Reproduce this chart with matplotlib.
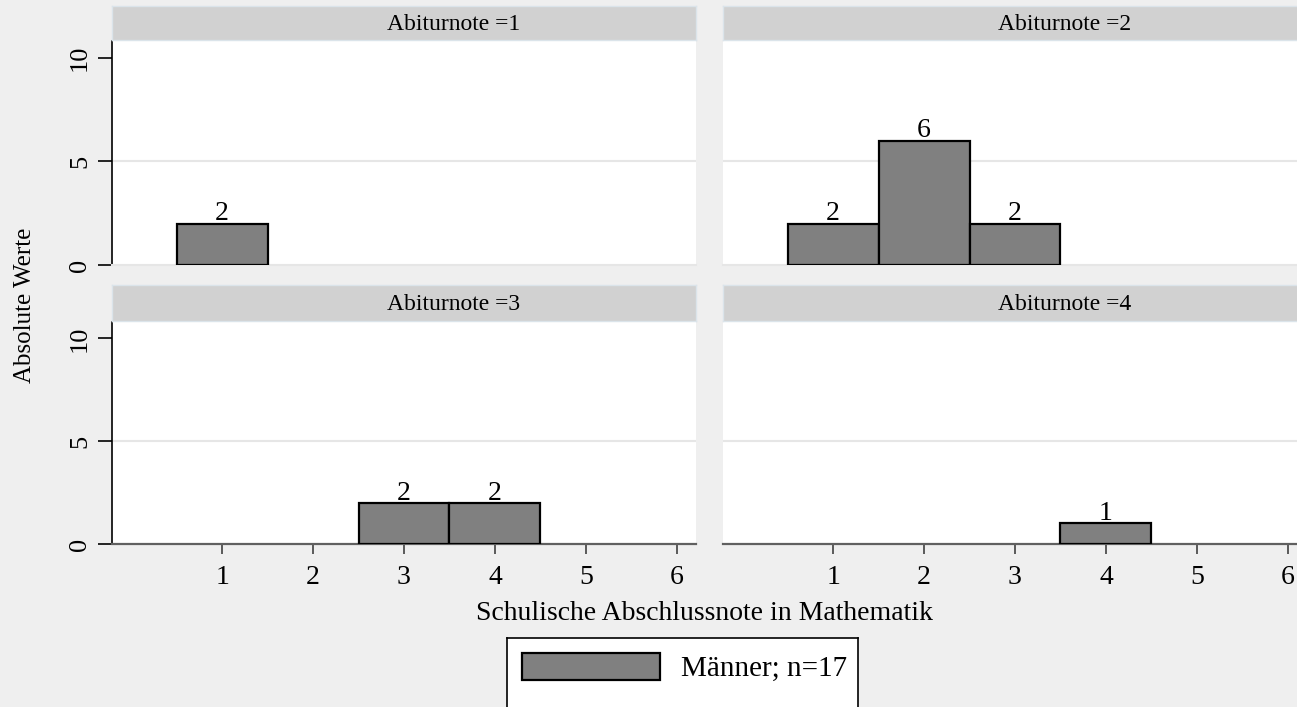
import numpy as np
import matplotlib
matplotlib.use("Agg")
from matplotlib import pyplot as plt
from matplotlib.patches import Patch

plt.rcParams['font.family'] = ['Liberation Serif', 'DejaVu Serif']

# data
grades = [1, 2, 3, 4, 5, 6]
abitur = [1, 2, 3, 4]
counts_abi1 = [2, 0, 0, 0, 0, 0]
counts_abi2 = [2, 6, 2, 0, 0, 0]
counts_abi3 = [0, 0, 2, 2, 0, 0]
counts_abi4 = [0, 0, 0, 1, 0, 0]
all_counts = [counts_abi1, counts_abi2, counts_abi3, counts_abi4]
y_ticks = [0, 5, 10]
legend_label = "Männer; n=17"
x_title = "Schulische Abschlussnote in Mathematik"
y_title = "Absolute Werte"

W, H = 1297, 707
bg = '#efefef'
strip_col = '#d1d1d1'
bar_col = '#808080'


def px(l, t, r, b):
    return [l / W, 1 - b / H, (r - l) / W, (b - t) / H]


fig = plt.figure(figsize=(W / 100, H / 100), dpi=100, facecolor=bg)

# panel boxes in pixels: left, right, top, bottom, strip top, strip bottom
panels = [(112, 696, 41, 265, 6, 40), (723, 1307, 41, 265, 6, 40),
          (112, 696, 322, 544, 285, 321), (723, 1307, 322, 544, 285, 321)]

for i, (l, r, t, b, st, sb) in enumerate(panels):
    ax = fig.add_axes(px(l, t, r, b))
    ax.set_facecolor('white')
    counts = np.array(all_counts[i])
    g = np.array(grades)
    m = counts > 0
    bars = ax.bar(g[m], counts[m], width=1.0, color=bar_col,
                  edgecolor='black', linewidth=1.6, zorder=3)
    ax.bar_label(bars, labels=[str(c) for c in counts[m]], padding=-2,
                 fontsize=20)
    ax.axhline(5, color='#e6e6e6', lw=1.5, zorder=1)
    ax.set_xlim(-0.21, 6.21)
    ax.set_ylim(0, 10.8)
    for s in ['top', 'right']:
        ax.spines[s].set_visible(False)

    left = (i % 2 == 0)
    bottom = (i >= 2)
    if left:
        ax.spines['left'].set_color('black')
        ax.spines['left'].set_linewidth(1.2)
        ax.set_yticks(y_ticks)
        ax.set_yticklabels([str(v) for v in y_ticks], rotation=90,
                           va='center', fontsize=19)
        ax.tick_params(axis='y', length=10, width=1.2, pad=5)
    else:
        ax.spines['left'].set_visible(False)
        ax.set_yticks([])
    if bottom:
        ax.spines['bottom'].set_color('#606060')
        ax.spines['bottom'].set_linewidth(1.6)
        ax.set_xticks(grades)
        ax.set_xticklabels([str(v) for v in grades], fontsize=20)
        ax.tick_params(axis='x', length=7, width=1.2, color='#404040', pad=8)
    else:
        ax.spines['bottom'].set_color('#e6e6e6')
        ax.spines['bottom'].set_linewidth(1.5)
        ax.set_xticks([])

    # strip header
    sax = fig.add_axes(px(l, st, r, sb))
    sax.set_facecolor(strip_col)
    sax.set_xticks([])
    sax.set_yticks([])
    for s in sax.spines.values():
        s.set_color('#dbe4ea')
        s.set_linewidth(1)
    sax.text(342 / (r - l), 0.45, f"Abiturnote ={abitur[i]}",
             ha='center', va='center', fontsize=17,
             transform=sax.transAxes)

fig.text(25 / W, 1 - 305 / H, y_title, rotation=90, ha='center',
         va='center', fontsize=18)
fig.text(705 / W, 1 - 613 / H, x_title, ha='center', va='center',
         fontsize=20)

# legend box
lax = fig.add_axes(px(507, 638, 858, 720))
lax.set_facecolor('white')
lax.set_xticks([])
lax.set_yticks([])
for s in lax.spines.values():
    s.set_color('black')
    s.set_linewidth(1.2)
lax.legend(handles=[Patch(facecolor=bar_col, edgecolor='black',
                          linewidth=1.6, label=legend_label)],
           loc='upper left', frameon=False, fontsize=21,
           handlelength=4.75, handleheight=1.07, handletextpad=0.7,
           borderaxespad=0.2, borderpad=0.3)

fig.savefig('out.png', dpi=100, facecolor=bg)
